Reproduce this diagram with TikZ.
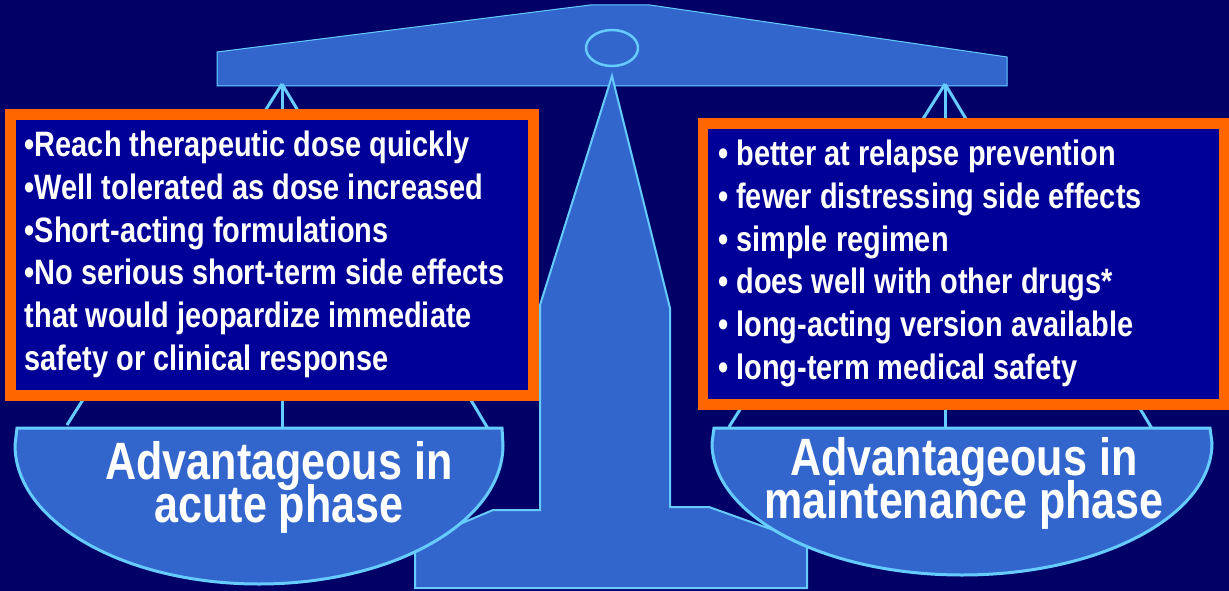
\documentclass[tikz,border=0pt]{standalone}
\usepackage{fontspec}
\newfontfamily\slidefont{Liberation Sans Bold}[FakeStretch=0.82]
\newcommand\panfont{\slidefont\fontsize{52.5}{43}\selectfont\setlength\lineskiplimit{-50pt}}
\definecolor{navybg}{HTML}{000066}
\definecolor{scaleblue}{HTML}{3366CC}
\definecolor{rimblue}{HTML}{66CCFF}
\definecolor{boxblue}{HTML}{000099}
\definecolor{boxorange}{HTML}{FF6600}
\begin{document}
\begin{tikzpicture}[x=1pt, y=-1pt,
	rim/.style={draw=rimblue, fill=scaleblue},
	cord/.style={rimblue, line width=3pt},
	listbox/.style={draw=boxorange, fill=boxblue, anchor=north west, inner sep=0pt, outer sep=0pt},
	listtext/.style={text=white, anchor=north west, align=left, inner sep=0pt,
		font=\slidefont\fontsize{35.3}{42.7}\selectfont},
	pantext/.style={text=white, anchor=north, align=center, inner sep=0pt, font=\panfont}]
	\fill[navybg] (0,0) rectangle (1229,591);
	\useasboundingbox (0,0) rectangle (1229,591);

	% beam with its pivot
	\draw[rim, line width=1pt] (217,52) -- (590,5) -- (650,5) -- (1007,57) -- (1007,86) -- (217,86) -- cycle;
	% stand
	\draw[rim, line width=2pt] (612,76) -- (540,305) -- (540,510) -- (493,510) -- (415,543) -- (415,588)
		-- (807,588) -- (807,542) -- (709,507) -- (670,507) -- (670,308) -- cycle;
	\draw[rimblue, line width=2.5pt] (612,48) ellipse [x radius=26, y radius=18];

	% cords
	\coordinate (lhook) at (282,84);
	\coordinate (rhook) at (945,84);
	\coordinate (lpanA) at (67,425);
	\coordinate (lpanB) at (282,428);
	\coordinate (lpanC) at (490,432);
	\coordinate (rpanA) at (729,427);
	\coordinate (rpanB) at (945,428);
	\coordinate (rpanC) at (1154,432);
		\draw[cord] (lhook) -- (lpanA);
		\draw[cord] (lhook) -- (lpanB);
		\draw[cord] (lhook) -- (lpanC);
		\draw[cord] (rhook) -- (rpanA);
		\draw[cord] (rhook) -- (rpanB);
		\draw[cord] (rhook) -- (rpanC);

	% pans
	\draw[rim, line width=3pt] (17,428) -- (15,445) arc[start angle=180, end angle=0, x radius=244, y radius=139] -- (502,428) -- cycle;
	\draw[rim, line width=3pt] (714,428) -- (712,443) arc[start angle=180, end angle=0, x radius=250, y radius=132] -- (1210,428) -- cycle;
	\node (acutelabel) [pantext] at (279,441) {Advantageous in\\acute phase};
	\node (mainlabel) [pantext] at (964,437) {Advantageous in\\maintenance phase};

	% lists
	\node (acutebox) [listbox, line width=11pt, minimum width=523pt, minimum height=280.5pt] at (10.5,114.5) {};
	\node (acutelist) [listtext] at (24.5,131) {%
		•Reach therapeutic dose quickly\\
		•Well tolerated as dose increased\\
		•Short-acting formulations\\
		•No serious short-term side effects\\
		that would jeopardize immediate\\
		safety or clinical response};
	\node (mainbox) [listbox, line width=10.5pt, minimum width=521.5pt, minimum height=281pt] at (703,123.5) {};
	\node (mainlist) [listtext] at (718,140) {%
		• better at relapse prevention\\
		• fewer distressing side effects\\
		• simple regimen\\
		• does well with other drugs*\\
		• long-acting version available\\
		• long-term medical safety};
\end{tikzpicture}
\end{document}
